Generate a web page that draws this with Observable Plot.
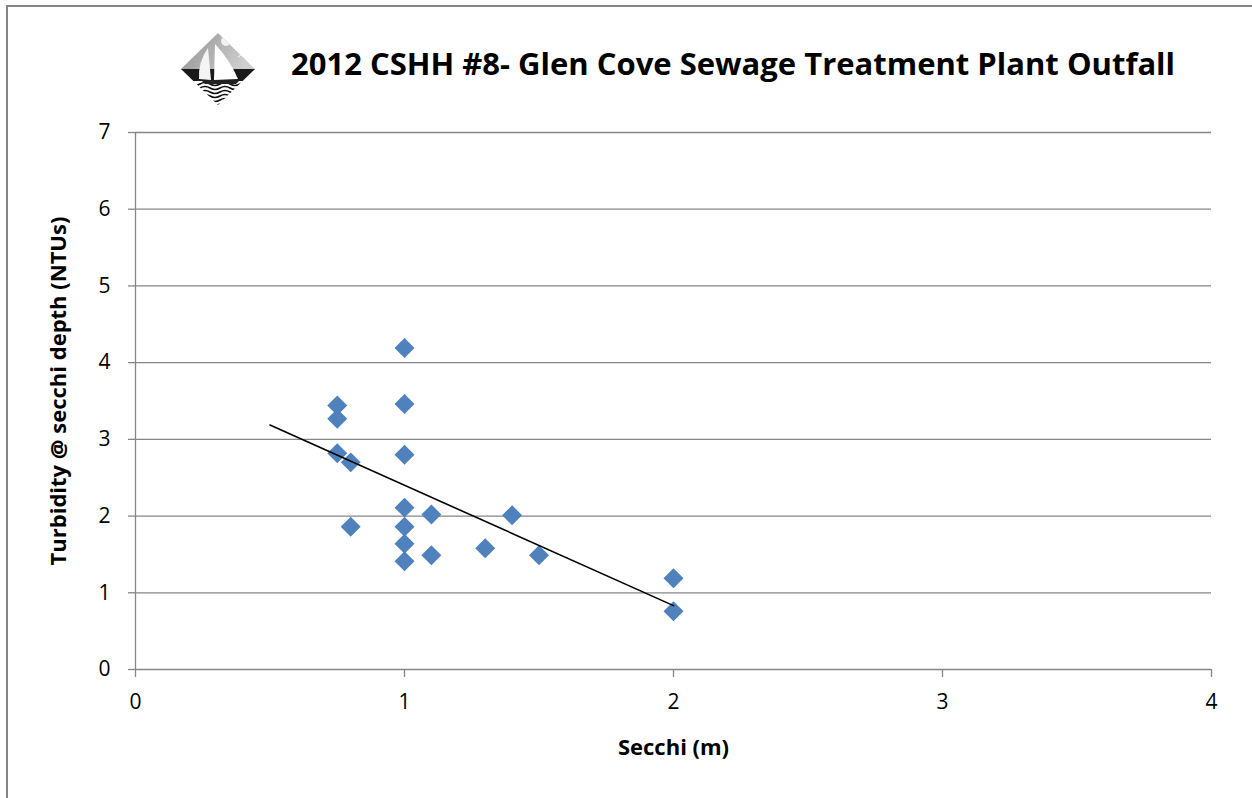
<!DOCTYPE html>
<html>
<head>
<meta charset="utf-8">
<script src="https://cdn.jsdelivr.net/npm/d3@7"></script>
<script src="https://cdn.jsdelivr.net/npm/@observablehq/plot@0.6"></script>
<style>
  html, body { margin: 0; padding: 0; background: #fff; overflow: hidden; }
  #wrap { position: relative; width: 1252px; height: 798px; overflow: hidden; background: #fff; font-family: "Open Sans", sans-serif; }
  #border { position: absolute; left: 6px; top: 5px; width: 1300px; height: 900px; border: 2px solid #868686; box-sizing: border-box; pointer-events: none; z-index: 3; }
  #header { position: relative; height: 110px; }
  #title { position: absolute; left: 291px; top: 48px; font-weight: bold; font-size: 31px; color: #000; white-space: nowrap; line-height: 1; letter-spacing: 0px; }
  #logo { position: absolute; left: 178px; top: 30px; }
  #chart { position: relative; }
  #chart svg { overflow: visible; }
</style>
</head>
<body>
<div id="wrap">
  <div id="border"></div>
  <div id="header">
    <svg id="logo" width="80" height="80" viewBox="178 30 80 80">
      <defs>
        <clipPath id="dia"><polygon points="218,33 255,69 218,105 181,69"/></clipPath>
        <linearGradient id="sky" x1="0" y1="0" x2="1" y2="0.3">
          <stop offset="0" stop-color="#8a8a8a"/>
          <stop offset="0.6" stop-color="#b4b4b4"/>
          <stop offset="1" stop-color="#d0d0d0"/>
        </linearGradient>
      </defs>
      <g clip-path="url(#dia)">
        <rect x="178" y="30" width="80" height="40" fill="url(#sky)"/>
        <rect x="178" y="69" width="80" height="12" fill="#1a1a1a"/>
        <rect x="178" y="81" width="80" height="30" fill="#fff"/>
        <g fill="none" stroke="#111" stroke-width="1.6">
          <path d="M180,84 q5,-3 10,0 t10,0 t10,0 t10,0 t10,0 t10,0 t10,0 t10,0"/>
          <path d="M180,88 q5,-3 10,0 t10,0 t10,0 t10,0 t10,0 t10,0 t10,0 t10,0"/>
          <path d="M180,92 q5,-3 10,0 t10,0 t10,0 t10,0 t10,0 t10,0 t10,0 t10,0"/>
          <path d="M180,96 q5,-3 10,0 t10,0 t10,0 t10,0 t10,0 t10,0 t10,0 t10,0"/>
          <path d="M180,100 q5,-3 10,0 t10,0 t10,0 t10,0 t10,0 t10,0 t10,0 t10,0"/>
          <path d="M180,104 q5,-3 10,0 t10,0 t10,0 t10,0 t10,0 t10,0 t10,0 t10,0"/>
        </g>
        <circle cx="226" cy="41" r="5" fill="#f2f2f2"/>
        <path d="M208,48 Q198,62 199,79 L211,80 Z" fill="#f4f4f4"/>
        <path d="M215,44 Q230,60 238,79 L214,80 Z" fill="#fff"/>
        <path d="M201,80 L240,80 L236,84 L205,84 Z" fill="#222"/>
        <path d="M238,57 l3,-2 l3,2" fill="none" stroke="#fff" stroke-width="0.8"/>
      </g>
    </svg>
    <div id="title">2012 CSHH #8- Glen Cove Sewage Treatment Plant Outfall</div>
  </div>
  <div id="chart"></div>
</div>
<script>
const secchi    = [0.75, 0.75, 0.75, 0.8, 0.8, 1, 1, 1, 1, 1, 1, 1, 1.1, 1.1, 1.3, 1.4, 1.5, 2, 2];
const turbidity = [3.44, 3.27, 2.82, 2.70, 1.86, 4.19, 3.46, 2.80, 2.11, 1.86, 1.64, 1.41, 2.02, 1.49, 1.58, 2.01, 1.49, 1.19, 0.76];
const xTicks = [0, 1, 2, 3, 4];
const yTicks = [0, 1, 2, 3, 4, 5, 6, 7];
const trendBackwardTo = 0.5; // linear trendline forecast backward to this x

const data = secchi.map((x, i) => ({x, y: turbidity[i]}));

// Least squares linear trendline
const mx = d3.mean(secchi), my = d3.mean(turbidity);
const sxy = d3.sum(data, d => (d.x - mx) * (d.y - my));
const sxx = d3.sum(data, d => (d.x - mx) ** 2);
const slope = sxy / sxx, intercept = my - slope * mx;
const trend = [trendBackwardTo, d3.max(secchi)].map(x => ({x, y: intercept + slope * x}));

const gray = "#868686";
const chart = Plot.plot({
  width: 1252,
  height: 688,
  marginTop: 22,
  marginLeft: 135,
  marginRight: 41,
  marginBottom: 129,
  style: {fontFamily: "'Open Sans', sans-serif", fontSize: "21px", color: "#000", background: "#fff", overflow: "visible"},
  x: {domain: [0, 4]},
  y: {domain: [0, 7]},
  marks: [
    Plot.gridY(yTicks, {stroke: gray, strokeOpacity: 1, strokeWidth: 1.3}),
    Plot.ruleX([0], {stroke: gray, strokeWidth: 1.3}),
    Plot.axisX(xTicks, {tickSize: 8, tickPadding: 17, stroke: gray, strokeWidth: 1.3, fill: "#000", label: null, tickFormat: d => String(d)}),
    Plot.axisY(yTicks, {tickSize: 7, tickPadding: 18, stroke: gray, strokeWidth: 1.3, fill: "#000", label: null, tickFormat: d => String(d)}),
    Plot.dot(data, {x: "x", y: "y", symbol: "diamond2", r: 9, fill: "#4F81BD", stroke: "none"}),
    Plot.line(trend, {x: "x", y: "y", stroke: "#000", strokeWidth: 1.6}),
    Plot.text(["Secchi (m)"], {frameAnchor: "bottom", textAnchor: "middle", lineAnchor: "bottom", dy: 85, fontWeight: "bold", fontSize: 22, fill: "#000"}),
    Plot.text(["Turbidity @ secchi depth (NTUs)"], {frameAnchor: "left", textAnchor: "middle", lineAnchor: "middle", dx: -77, dy: -10, rotate: -90, fontWeight: "bold", fontSize: 22, fill: "#000"})
  ]
});
document.getElementById("chart").appendChild(chart);
</script>
</body>
</html>
